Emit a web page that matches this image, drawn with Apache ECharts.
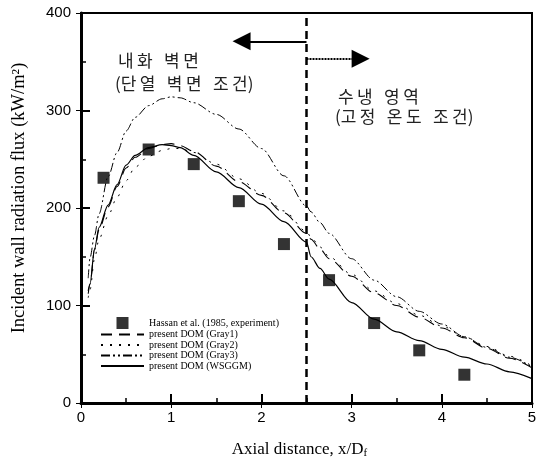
<!DOCTYPE html>
<html><head><meta charset="utf-8">
<script src="https://cdn.jsdelivr.net/npm/echarts@6/dist/echarts.min.js"></script>
<style>html,body{margin:0;padding:0;background:#fff}#c{width:543px;height:464px}</style>
</head><body><div id="c"></div>
<script>
const expX = [0.25, 0.75, 1.25, 1.75, 2.25, 2.75, 3.25, 3.75, 4.25];
const expY = [231, 260, 245, 207, 163, 126, 82, 54, 29];
const curveX = [0.08,0.1,0.15,0.2,0.3,0.4,0.5,0.6,0.75,0.9,1.0,1.1,1.25,1.5,1.75,2.0,2.25,2.5,2.55,2.65,2.75,3.0,3.25,3.5,3.75,4.0,4.25,4.5,4.75,5.0];
const gray1Y = [112,122,157,178,201,222,241,252,261,265,266,264,258,243,227,213,195,174,168,158,148,130,113,100,88,77,67,56,46,36];
const gray2Y = [108,116,148,168,192,211,228,242,253,259,261,261,257,245,230,215,197,176,170,160,150,132,115,102,90,79,68,58,48,38];
const gray3Y = [128,149,172,194,232,257,279,293,305,312,314,313,308,296,281,261,233,202,196,185,174,148,126,109,94,81,68,57,47,37];
const wsggmY = [115,122,158,180,203,224,244,254,262,265,264,262,254,237,221,204,186,165,150,138,127,103,86,73,64,55,47,40,32,25];
const seriesNames = ['Hassan et al. (1985, experiment)','present DOM (Gray1)','present DOM (Gray2)','present DOM (Gray3)','present DOM (WSGGM)'];
const boundaryX = 2.5;
const leftArrow = [[2.5, 371], [1.78, 371]];
const rightArrow = [[2.5, 353], [3.1, 353]];
const xTicks = [0, 1, 2, 3, 4, 5];
const yTicks = [0, 100, 200, 300, 400];

const pairs = (xs, ys) => xs.map((x, i) => [x, ys[i]]);
const chart = echarts.init(document.getElementById('c'), null, {renderer: 'canvas'});
const lineBase = {type: 'line', showSymbol: false, symbol: 'none', smooth: 0.3, smoothMonotone: 'x', z: 3};
const axisCommon = {
  axisLine: {lineStyle: {color: '#000', width: 3}},
  axisTick: {inside: true, length: 9, lineStyle: {color: '#000', width: 2}},
  minorTick: {show: true, splitNumber: 2, length: 5, lineStyle: {color: '#000', width: 1.5}},
  splitLine: {show: false}
};
const noSym = {color: 'transparent', borderColor: 'transparent', borderWidth: 0};
chart.setOption({
  animation: false,
  backgroundColor: '#fff',
  grid: {left: 81, right: 11, top: 13, bottom: 57, show: true, borderColor: '#000', borderWidth: 2},
  xAxis: [
    Object.assign({}, axisCommon, {type: 'value', min: 0, max: 5, interval: 1,
      name: 'Axial distance, x/D{sub|f}', nameLocation: 'middle', nameGap: 37,
      nameTextStyle: {fontFamily: 'Liberation Serif', fontSize: 17, color: '#000', padding: [0, 14, 0, 0],
        rich: {sub: {fontFamily: 'Liberation Serif', fontSize: 11, verticalAlign: 'bottom', padding: [8,0,0,0], color: '#000'}}},
      axisLabel: {fontFamily: 'Liberation Sans', fontSize: 15, color: '#000', margin: 7,
        formatter: v => xTicks.includes(v) ? String(v) : ''}}),
    Object.assign({}, axisCommon, {type: 'value', min: 0, max: 5, interval: 1, position: 'top',
      axisLine: {lineStyle: {color: '#000', width: 2}}, axisLabel: {show: false}, axisTick: {inside: true, length: 5, lineStyle: {color: '#000', width: 1}}, minorTick: {show: false}})
  ],
  yAxis: [
    Object.assign({}, axisCommon, {type: 'value', min: 0, max: 400, interval: 100,
      name: 'Incident wall radiation flux (kW/m²)', nameLocation: 'middle', nameGap: 52,
      nameTextStyle: {fontFamily: 'Liberation Serif', fontSize: 18.5, color: '#000', padding: [0, 0, 0, 20]},
      axisLabel: {fontFamily: 'Liberation Sans', fontSize: 15, color: '#000', margin: 10,
        formatter: v => yTicks.includes(v) ? String(v) : ''}}),
    Object.assign({}, axisCommon, {type: 'value', min: 0, max: 400, interval: 100, position: 'right',
      axisLine: {lineStyle: {color: '#000', width: 2}}, axisLabel: {show: false}, axisTick: {inside: true, length: 5, lineStyle: {color: '#000', width: 1}}, minorTick: {show: false}})
  ],
  legend: {
    orient: 'vertical', left: 95, top: 312, itemWidth: 43, itemHeight: 12, itemGap: 0.5,
    textStyle: {fontFamily: 'Liberation Serif', fontSize: 10, color: '#000'},
    data: [
      {name: seriesNames[0], icon: 'path://M0,0L10,0L10,10L0,10Z'},
      {name: seriesNames[1], itemStyle: noSym},
      {name: seriesNames[2], itemStyle: noSym},
      {name: seriesNames[3], itemStyle: noSym},
      {name: seriesNames[4], itemStyle: noSym}
    ]
  },
  graphic: [
    {type: 'text', left: 118, top: 52, style: {text: '내\u2009화   벽\u2009면', font: '17px "Noto Sans CJK KR"', fill: '#222'}},
    {type: 'text', left: 115, top: 75, style: {text: '(단\u2009열   벽\u2009면   조\u2009건)', font: '17px "Noto Sans CJK KR"', fill: '#222'}},
    {type: 'text', left: 338, top: 88, style: {text: '수\u2009냉   영\u2009역', font: '17px "Noto Sans CJK KR"', fill: '#222'}},
    {type: 'text', left: 335, top: 108, style: {text: '(고\u2009정   온\u2009도   조\u2009건)', font: '17px "Noto Sans CJK KR"', fill: '#222'}}
  ],
  series: [
    {type: 'scatter', name: seriesNames[0], data: pairs(expX, expY), symbol: 'rect', symbolSize: 12,
      itemStyle: {color: '#000'}, z: 5},
    Object.assign({}, lineBase, {name: seriesNames[1], data: pairs(curveX, gray1Y), lineStyle: {color: '#000', width: 1.1, type: [11, 7]}, itemStyle: {color: '#000'}}),
    Object.assign({}, lineBase, {name: seriesNames[2], data: pairs(curveX, gray2Y), lineStyle: {color: '#000', width: 1, type: [2, 7]}, itemStyle: {color: '#000'}}),
    Object.assign({}, lineBase, {name: seriesNames[3], data: pairs(curveX, gray3Y), lineStyle: {color: '#000', width: 1, type: [9, 3, 2, 3, 2, 3]}, itemStyle: {color: '#000'}}),
    Object.assign({}, lineBase, {name: seriesNames[4], data: pairs(curveX, wsggmY), lineStyle: {color: '#000', width: 1.2}, itemStyle: {color: '#000'},
      markLine: {silent: true, animation: false, label: {show: false}, emphasis: {disabled: true},
        data: [
          [{coord: [boundaryX, 0], symbol: 'none', lineStyle: {color: '#000', width: 2.5, type: [8, 5]}},
           {coord: [boundaryX, 400], symbol: 'none'}],
          [{coord: leftArrow[0], symbol: 'none', lineStyle: {color: '#000', width: 2, type: 'solid'}},
           {coord: leftArrow[1], symbol: 'triangle', symbolSize: 18}],
          [{coord: rightArrow[0], symbol: 'none', lineStyle: {color: '#000', width: 2, type: [2, 1]}},
           {coord: rightArrow[1], symbol: 'triangle', symbolSize: 18}]
        ]}})
  ]
});
</script></body></html>
